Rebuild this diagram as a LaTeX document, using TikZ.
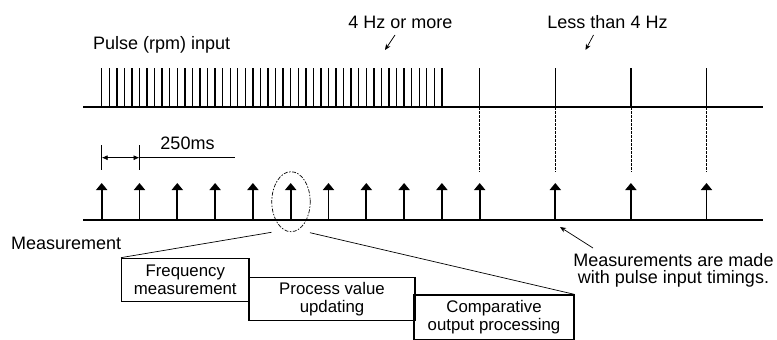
\documentclass[tikz,border=0pt]{standalone}
\usepackage{fontspec}
\setmainfont{Liberation Sans}
\usetikzlibrary{positioning, arrows.meta, shapes.geometric}

\begin{document}
\begin{tikzpicture}[
    x=1pt, y=-1pt,
    lbl/.style={inner sep=0pt, font=\fontsize{18}{17}\selectfont},
    box/.style={draw, rectangle, line width=1.3pt, align=center, inner sep=0pt, font=\fontsize{16.8}{17.6}\selectfont},
    pulse/.style={line width=1.4pt},
    axis/.style={line width=1.5pt},
    meas/.style={line width=1.7pt, -{Triangle[width=11pt, length=7pt]}},
    guide/.style={line width=0.6pt, dash pattern=on 2.5pt off 1.5pt},
    fan/.style={line width=0.7pt},
    note/.style={line width=0.7pt, -{Stealth[length=6pt, width=5pt]}}
]
\useasboundingbox (0,0) rectangle (777,340);

% time axes
\coordinate (top0) at (83,107);
\coordinate (top1) at (763,107);
\coordinate (bot0) at (83,220);
\coordinate (bot1) at (763,220);
\draw[axis] (top0) -- (top1);
\draw[axis] (bot0) -- (bot1);

% pulses, 4 Hz or more
\foreach \i in {0,...,45}
    \draw[pulse] (101.7+7.56*\i,107) -- ++(0,-39);

% pulses, less than 4 Hz
\foreach \j in {0,...,3} {
    \coordinate (sp\j) at (479.7+75.6*\j,107);
    \draw[pulse] (sp\j) -- ++(0,-39);
    \draw[guide] (sp\j) -- ++(0,65);
}

% measurement timings
\foreach \k in {0,1,2,3,4,5,6,7,8,9,10,12,14,16}
    \draw[meas] (101.7+37.8*\k,220) -- ++(0,-37);

% 250 ms period
\coordinate (d0) at (101.7,145);
\coordinate (d1) at (139.5,145);
\coordinate (dl) at (101.7,157.7);
\coordinate (dm) at (139.5,157.7);
\coordinate (dr) at (235,157.7);
\draw[fan] (d0) -- ++(0,25);
\draw[fan] (d1) -- ++(0,25);
\draw[fan, {Latex[length=6pt, width=5pt]}-{Latex[length=6pt, width=5pt]}] (dl) -- (dm);
\draw[fan] (dm) -- (dr);
\node[lbl, anchor=base] (period) at (187.5,149) {250ms};

% labels
\node[lbl, anchor=base west] (pulselbl) at (93,49.5) {Pulse (rpm) input};
\node[lbl, anchor=base] (fast) at (400.5,28.3) {4 Hz or more};
\node[lbl, anchor=base] (slow) at (607.5,28.3) {Less than 4 Hz};
\node[lbl, anchor=base west] (measlbl) at (11,249) {Measurement};
\node[lbl, align=center] (remark) at (673.5,270) {Measurements are made\\with pulse input timings.};

\coordinate (fastfrom) at (395,35);
\coordinate (fastto) at (385,50);
\coordinate (slowfrom) at (593.5,35);
\coordinate (slowto) at (585.5,50);
\coordinate (remfrom) at (593,248);
\coordinate (remto) at (560,227);
\draw[note] (fastfrom) -- (fastto);
\draw[note] (slowfrom) -- (slowto);
\draw[note] (remfrom) -- (remto);

% one measurement, enlarged
\node[ellipse, draw, line width=0.7pt, dash pattern=on 4pt off 1.5pt on 1.5pt off 1.5pt,
      minimum width=38.4pt, minimum height=60pt, inner sep=0pt] (focus) at (291,201.7) {};

\node[box, minimum width=127.3pt, minimum height=43.4pt] (freq) at (185.3,280) {Frequency\\measurement};
\node[box, minimum width=166pt, minimum height=43pt] (pvupd) at (332,299.2) {Process value\\updating};
\node[box, minimum width=160pt, minimum height=44.3pt] (cmpout) at (494,317.2) {Comparative\\output processing};

\coordinate (fl) at (271.5,232.3);
\coordinate (fr) at (310,232.7);
\draw[fan] (fl) -- (freq.north west);
\draw[fan] (fr) -- (cmpout.north east);

\end{tikzpicture}
\end{document}
